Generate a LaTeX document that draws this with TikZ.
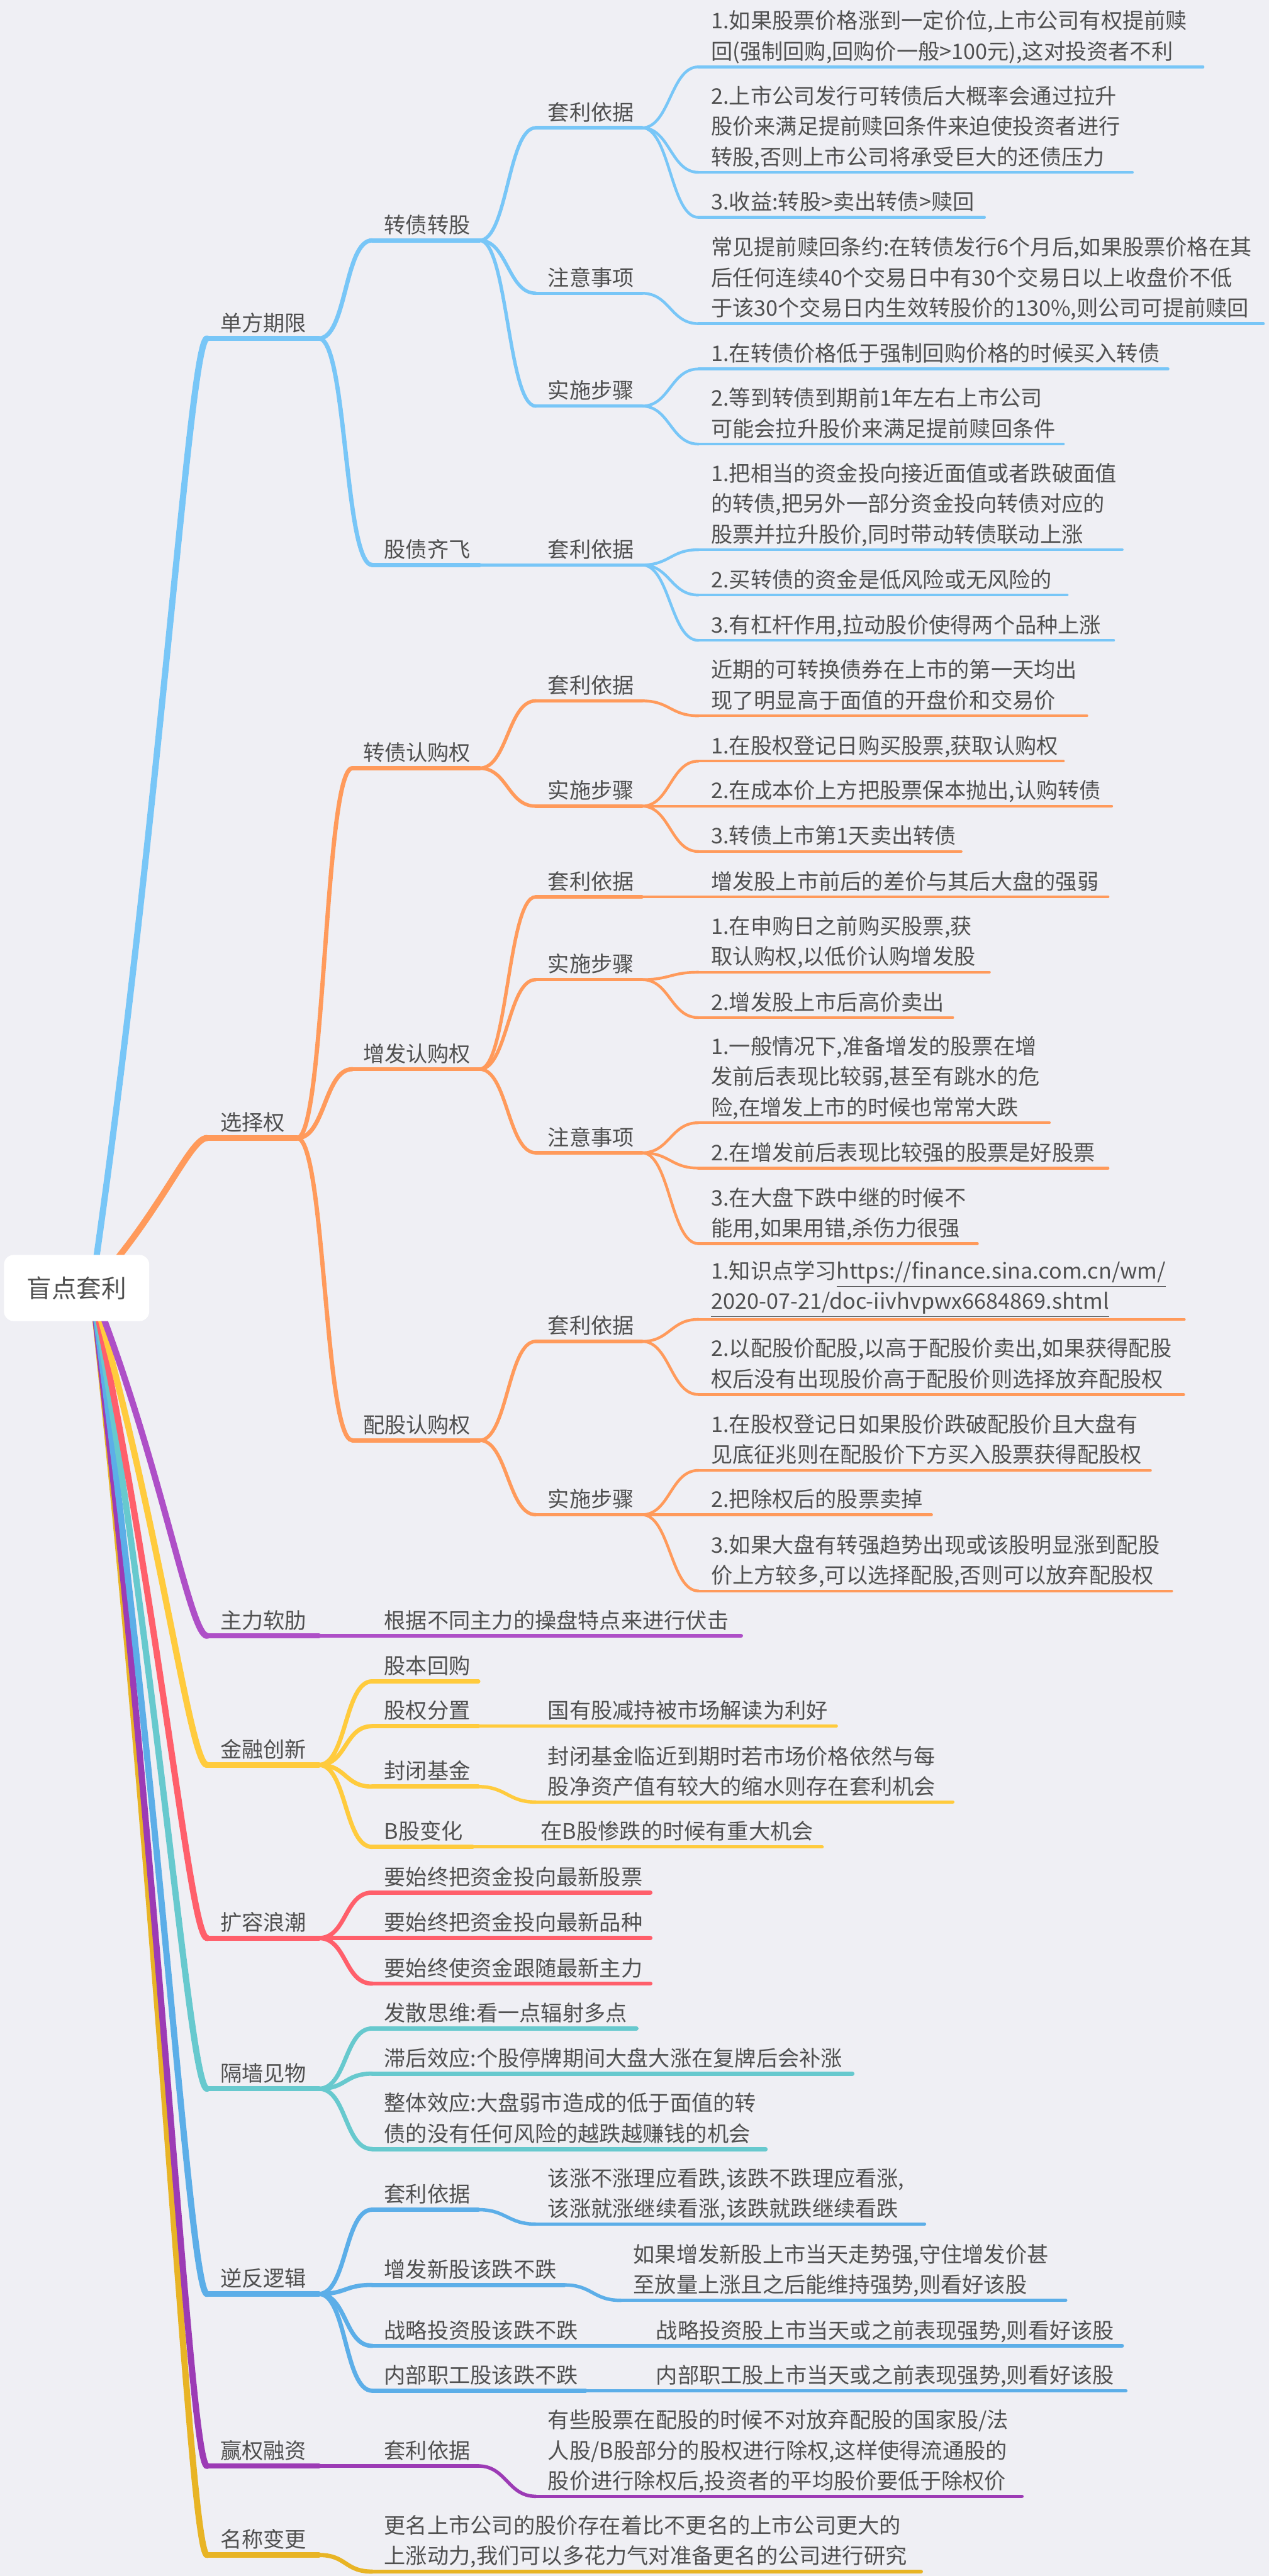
\documentclass[tikz,border=0pt]{standalone}
\usepackage{fontspec}
\newfontfamily\cjk{Noto Sans CJK SC}
\definecolor{bg}{HTML}{EFEFF4}
\definecolor{tc}{HTML}{505050}
\definecolor{cA}{HTML}{78C6F7}
\definecolor{cB}{HTML}{FF9A5B}
\definecolor{cC}{HTML}{AE4FC7}
\definecolor{cD}{HTML}{FFCB3D}
\definecolor{cE}{HTML}{FF5F6B}
\definecolor{cF}{HTML}{67C9CE}
\definecolor{cG}{HTML}{5CAEE8}
\definecolor{cH}{HTML}{9C3BB5}
\definecolor{cI}{HTML}{E8B425}
\tikzset{
 l0/.style={line width=3.8pt, line cap=round},
 l1/.style={line width=3.2pt, line cap=round},
 l2/.style={line width=2.6pt, line cap=round},
 l3/.style={line width=2.1pt, line cap=round},
 l4/.style={line width=1.7pt, line cap=round},
 tx/.style={anchor=south west, yshift=1.1pt, inner sep=0pt, outer sep=0pt, align=left, text=tc, font=\cjk\fontsize{13.1}{18.5}\selectfont},
 rootbox/.style={fill=white, rounded corners=6pt, minimum width=88.4pt, minimum height=40.3pt, inner sep=0pt, text=tc, font=\cjk\fontsize{15.2}{18}\selectfont},
}
\newcommand\sut{\rule[-3.5pt]{0pt}{10pt}}
% name, x start, x end, y, x text, line style, text
\newcommand\mn[7]{%
 \coordinate (#1s) at (#2,#4);
 \coordinate (#1e) at (#3,#4);
 \draw[#6] (#1s) -- (#1e);
 \node[tx] (#1) at (#5,#4) {#7\sut};}
\newcommand\cn[3]{\draw[#3] (#1e) .. controls +(17,0) and +(-17,0) .. (#2s);}
\newcommand\rc[3]{\draw[l0,#2] (r0) .. controls +(42,#3) and +(-10.5,0) .. (#1s);}
\begin{document}
\begin{tikzpicture}[x=1pt,y=-1pt]
\path[use as bounding box, fill=bg] (0,0) rectangle (772,1568);
\coordinate (r0) at (56,784);

% ---------- 单方期限 ----------
\mn{a}{126}{194}{206}{134}{l1,cA}{单方期限}
\mn{a1}{226.5}{291.8}{146.3}{233.8}{l2,cA}{转债转股}
\mn{a11}{326}{390.6}{77.8}{333.4}{l3,cA}{套利依据}
\mn{a111}{425}{732}{40.7}{432.7}{l4,cA}{1.如果股票价格涨到一定价位,上市公司有权提前赎\\回(强制回购,回购价一般>100元),这对投资者不利}
\mn{a112}{425}{689}{104.9}{432.7}{l4,cA}{2.上市公司发行可转债后大概率会通过拉升\\股价来满足提前赎回条件来迫使投资者进行\\转股,否则上市公司将承受巨大的还债压力}
\mn{a113}{425}{599}{132.3}{432.7}{l4,cA}{3.收益:转股>卖出转债>赎回}
\mn{a12}{326}{390.6}{178.5}{333.4}{l3,cA}{注意事项}
\mn{a121}{425}{768.7}{197}{432.7}{l4,cA}{常见提前赎回条约:在转债发行6个月后,如果股票价格在其\\后任何连续40个交易日中有30个交易日以上收盘价不低\\于该30个交易日内生效转股价的130\%,则公司可提前赎回}
\mn{a13}{326}{390.6}{247.2}{333.4}{l3,cA}{实施步骤}
\mn{a131}{425}{710.7}{224.6}{432.7}{l4,cA}{1.在转债价格低于强制回购价格的时候买入转债}
\mn{a132}{425}{647}{270.3}{432.7}{l4,cA}{2.等到转债到期前1年左右上市公司\\可能会拉升股价来满足提前赎回条件}
\mn{a2}{226.5}{291.8}{343.9}{233.8}{l2,cA}{股债齐飞}
\mn{a21}{326}{390.6}{343.9}{333.4}{l3,cA}{套利依据}
\mn{a211}{425}{682.8}{334.6}{432.7}{l4,cA}{1.把相当的资金投向接近面值或者跌破面值\\的转债,把另外一部分资金投向转债对应的\\股票并拉升股价,同时带动转债联动上涨}
\mn{a212}{425}{649.3}{362.2}{432.7}{l4,cA}{2.买转债的资金是低风险或无风险的}
\mn{a213}{425}{677.6}{389.8}{432.7}{l4,cA}{3.有杠杆作用,拉动股价使得两个品种上涨}
\cn{a}{a1}{l2,cA}\cn{a}{a2}{l2,cA}
\cn{a1}{a11}{l3,cA}\cn{a1}{a12}{l3,cA}\cn{a1}{a13}{l3,cA}
\cn{a11}{a111}{l4,cA}\cn{a11}{a112}{l4,cA}\cn{a11}{a113}{l4,cA}
\cn{a12}{a121}{l4,cA}
\cn{a13}{a131}{l4,cA}\cn{a13}{a132}{l4,cA}
\cn{a2}{a21}{l3,cA}
\cn{a21}{a211}{l4,cA}\cn{a21}{a212}{l4,cA}\cn{a21}{a213}{l4,cA}

% ---------- 选择权 ----------
\mn{b}{126}{180.8}{692.7}{134}{l1,cB}{选择权}
\mn{b1}{214.4}{291.8}{467.6}{220.9}{l2,cB}{转债认购权}
\mn{b11}{326}{390.6}{426.6}{333.4}{l3,cB}{套利依据}
\mn{b111}{425}{661.3}{435.7}{432.7}{l4,cB}{近期的可转换债券在上市的第一天均出\\现了明显高于面值的开盘价和交易价}
\mn{b12}{326}{390.6}{490.7}{333.4}{l3,cB}{实施步骤}
\mn{b121}{425}{647}{463.3}{432.7}{l4,cB}{1.在股权登记日购买股票,获取认购权}
\mn{b122}{425}{676.4}{490.7}{432.7}{l4,cB}{2.在成本价上方把股票保本抛出,认购转债}
\mn{b123}{425}{584.8}{518.3}{432.7}{l4,cB}{3.转债上市第1天卖出转债}
\mn{b2}{214.4}{291.8}{650.8}{220.9}{l2,cB}{增发认购权}
\mn{b21}{326}{390.6}{545.9}{333.4}{l3,cB}{套利依据}
\mn{b211}{425}{674.2}{545.9}{432.7}{l4,cB}{增发股上市前后的差价与其后大盘的强弱}
\mn{b22}{326}{390.6}{596.3}{333.4}{l3,cB}{实施步骤}
\mn{b221}{425}{602}{591.8}{432.7}{l4,cB}{1.在申购日之前购买股票,获\\取认购权,以低价认购增发股}
\mn{b222}{425}{579.7}{619.4}{432.7}{l4,cB}{2.增发股上市后高价卖出}
\mn{b23}{326}{390.6}{701.7}{333.4}{l3,cB}{注意事项}
\mn{b231}{425}{638.5}{683.4}{432.7}{l4,cB}{1.一般情况下,准备增发的股票在增\\发前后表现比较弱,甚至有跳水的危\\险,在增发上市的时候也常常大跌}
\mn{b232}{425}{674.2}{711}{432.7}{l4,cB}{2.在增发前后表现比较强的股票是好股票}
\mn{b233}{425}{594.7}{757}{432.7}{l4,cB}{3.在大盘下跌中继的时候不\\能用,如果用错,杀伤力很强}
\mn{b3}{214.4}{291.8}{876.7}{220.9}{l2,cB}{配股认购权}
\mn{b31}{326}{390.6}{816.5}{333.4}{l3,cB}{套利依据}
\mn{b311}{425}{720.6}{803.1}{432.7}{l4,cB}{1.知识点学习\underline{https://finance.sina.com.cn/wm/}\\\underline{2020-07-21/doc-iivhvpwx6684869.shtml}}
\mn{b312}{425}{720.2}{848.8}{432.7}{l4,cB}{2.以配股价配股,以高于配股价卖出,如果获得配股\\权后没有出现股价高于配股价则选择放弃配股权}
\mn{b32}{326}{390.6}{922}{333.4}{l3,cB}{实施步骤}
\mn{b321}{425}{700}{895}{432.7}{l4,cB}{1.在股权登记日如果股价跌破配股价且大盘有\\见底征兆则在配股价下方买入股票获得配股权}
\mn{b322}{425}{566.8}{922}{432.7}{l4,cB}{2.把除权后的股票卖掉}
\mn{b323}{425}{712.9}{968.4}{432.7}{l4,cB}{3.如果大盘有转强趋势出现或该股明显涨到配股\\价上方较多,可以选择配股,否则可以放弃配股权}
\cn{b}{b1}{l2,cB}\cn{b}{b2}{l2,cB}\cn{b}{b3}{l2,cB}
\cn{b1}{b11}{l3,cB}\cn{b1}{b12}{l3,cB}
\cn{b11}{b111}{l4,cB}
\cn{b12}{b121}{l4,cB}\cn{b12}{b122}{l4,cB}\cn{b12}{b123}{l4,cB}
\cn{b2}{b21}{l3,cB}\cn{b2}{b22}{l3,cB}\cn{b2}{b23}{l3,cB}
\cn{b21}{b211}{l4,cB}
\cn{b22}{b221}{l4,cB}\cn{b22}{b222}{l4,cB}
\cn{b23}{b231}{l4,cB}\cn{b23}{b232}{l4,cB}\cn{b23}{b233}{l4,cB}
\cn{b3}{b31}{l3,cB}\cn{b3}{b32}{l3,cB}
\cn{b31}{b311}{l4,cB}\cn{b31}{b312}{l4,cB}
\cn{b32}{b321}{l4,cB}\cn{b32}{b322}{l4,cB}\cn{b32}{b323}{l4,cB}

% ---------- 主力软肋 ----------
\mn{c}{126}{194}{995.7}{134}{l1,cC}{主力软肋}
\mn{c1}{226.5}{450.8}{995.7}{233.8}{l2,cC}{根据不同主力的操盘特点来进行伏击}
\cn{c}{c1}{l2,cC}

% ---------- 金融创新 ----------
\mn{d}{126}{194}{1074.3}{134}{l1,cD}{金融创新}
\mn{d1}{226.5}{291}{1023.4}{233.8}{l2,cD}{股本回购}
\mn{d2}{226.5}{291}{1050.7}{233.8}{l2,cD}{股权分置}
\mn{d21}{326}{508.8}{1050.7}{333.4}{l3,cD}{国有股减持被市场解读为利好}
\mn{d3}{226.5}{291}{1087.5}{233.8}{l2,cD}{封闭基金}
\mn{d31}{326}{579.7}{1096.9}{333.4}{l3,cD}{封闭基金临近到期时若市场价格依然与每\\股净资产值有较大的缩水则存在套利机会}
\mn{d4}{226.5}{287.5}{1124.2}{233.8}{l2,cD}{B股变化}
\mn{d41}{321.7}{500.2}{1124.2}{329.1}{l3,cD}{在B股惨跌的时候有重大机会}
\cn{d}{d1}{l2,cD}\cn{d}{d2}{l2,cD}\cn{d}{d3}{l2,cD}\cn{d}{d4}{l2,cD}
\cn{d2}{d21}{l3,cD}\cn{d3}{d31}{l3,cD}\cn{d4}{d41}{l3,cD}

% ---------- 扩容浪潮 ----------
\mn{e}{126}{194}{1179.7}{134}{l1,cE}{扩容浪潮}
\mn{e1}{226.5}{395.7}{1152}{233.8}{l2,cE}{要始终把资金投向最新股票}
\mn{e2}{226.5}{395.7}{1179.7}{233.8}{l2,cE}{要始终把资金投向最新品种}
\mn{e3}{226.5}{395.7}{1207.4}{233.8}{l2,cE}{要始终使资金跟随最新主力}
\cn{e}{e1}{l2,cE}\cn{e}{e2}{l2,cE}\cn{e}{e3}{l2,cE}

% ---------- 隔墙见物 ----------
\mn{f}{126}{194}{1271.4}{134}{l1,cF}{隔墙见物}
\mn{f1}{226.5}{387.2}{1234.7}{233.8}{l2,cF}{发散思维:看一点辐射多点}
\mn{f2}{226.5}{518.6}{1262.2}{233.8}{l2,cF}{滞后效应:个股停牌期间大盘大涨在复牌后会补涨}
\mn{f3}{226.5}{465.8}{1308.1}{233.8}{l2,cF}{整体效应:大盘弱市造成的低于面值的转\\债的没有任何风险的越跌越赚钱的机会}
\cn{f}{f1}{l2,cF}\cn{f}{f2}{l2,cF}\cn{f}{f3}{l2,cF}

% ---------- 逆反逻辑 ----------
\mn{g}{126}{194}{1396.3}{134}{l1,cG}{逆反逻辑}
\mn{g1}{226.5}{291}{1345}{233.8}{l2,cG}{套利依据}
\mn{g11}{326}{562.5}{1353.8}{333.4}{l3,cG}{该涨不涨理应看跌,该跌不跌理应看涨,\\该涨就涨继续看涨,该跌就跌继续看跌}
\mn{g2}{226.5}{343.3}{1390.8}{233.8}{l2,cG}{增发新股该跌不跌}
\mn{g21}{377.7}{648.4}{1400.2}{385.4}{l3,cG}{如果增发新股上市当天走势强,守住增发价甚\\至放量上涨且之后能维持强势,则看好该股}
\mn{g3}{226.5}{356.2}{1427.9}{233.8}{l2,cG}{战略投资股该跌不跌}
\mn{g31}{390.6}{682.8}{1427.9}{399.2}{l3,cG}{战略投资股上市当天或之前表现强势,则看好该股}
\mn{g4}{226.5}{356.2}{1455.2}{233.8}{l2,cG}{内部职工股该跌不跌}
\mn{g41}{390.6}{685}{1455.2}{399.2}{l3,cG}{内部职工股上市当天或之前表现强势,则看好该股}
\cn{g}{g1}{l2,cG}\cn{g}{g2}{l2,cG}\cn{g}{g3}{l2,cG}\cn{g}{g4}{l2,cG}
\cn{g1}{g11}{l3,cG}\cn{g2}{g21}{l3,cG}\cn{g3}{g31}{l3,cG}\cn{g4}{g41}{l3,cG}

% ---------- 赢权融资 ----------
\mn{h}{126}{194}{1501}{134}{l1,cH}{赢权融资}
\mn{h1}{226.5}{291}{1501}{233.8}{l2,cH}{套利依据}
\mn{h11}{326}{621.8}{1519.5}{333.4}{l3,cH}{有些股票在配股的时候不对放弃配股的国家股/法\\人股/B股部分的股权进行除权,这样使得流通股的\\股价进行除权后,投资者的平均股价要低于除权价}
\cn{h}{h1}{l2,cH}\cn{h1}{h11}{l3,cH}

% ---------- 名称变更 ----------
\mn{i}{126}{194}{1555.2}{134}{l1,cI}{名称变更}
\mn{i1}{226.5}{560.3}{1565.3}{233.8}{l2,cI}{更名上市公司的股价存在着比不更名的上市公司更大的\\上涨动力,我们可以多花力气对准备更名的公司进行研究}
\cn{i}{i1}{l2,cI}

% ---------- root branches ----------
\rc{i}{cI}{385.6}
\rc{h}{cH}{358.5}
\rc{g}{cG}{306.2}
\rc{f}{cF}{243.7}
\rc{e}{cE}{197.9}
\rc{d}{cD}{145.2}
\rc{c}{cC}{105.9}
\rc{b}{cB}{-45.7}
\rc{a}{cA}{-289}

\node[rootbox] (root) at (46.6,784) {盲点套利};
\end{tikzpicture}
\end{document}
